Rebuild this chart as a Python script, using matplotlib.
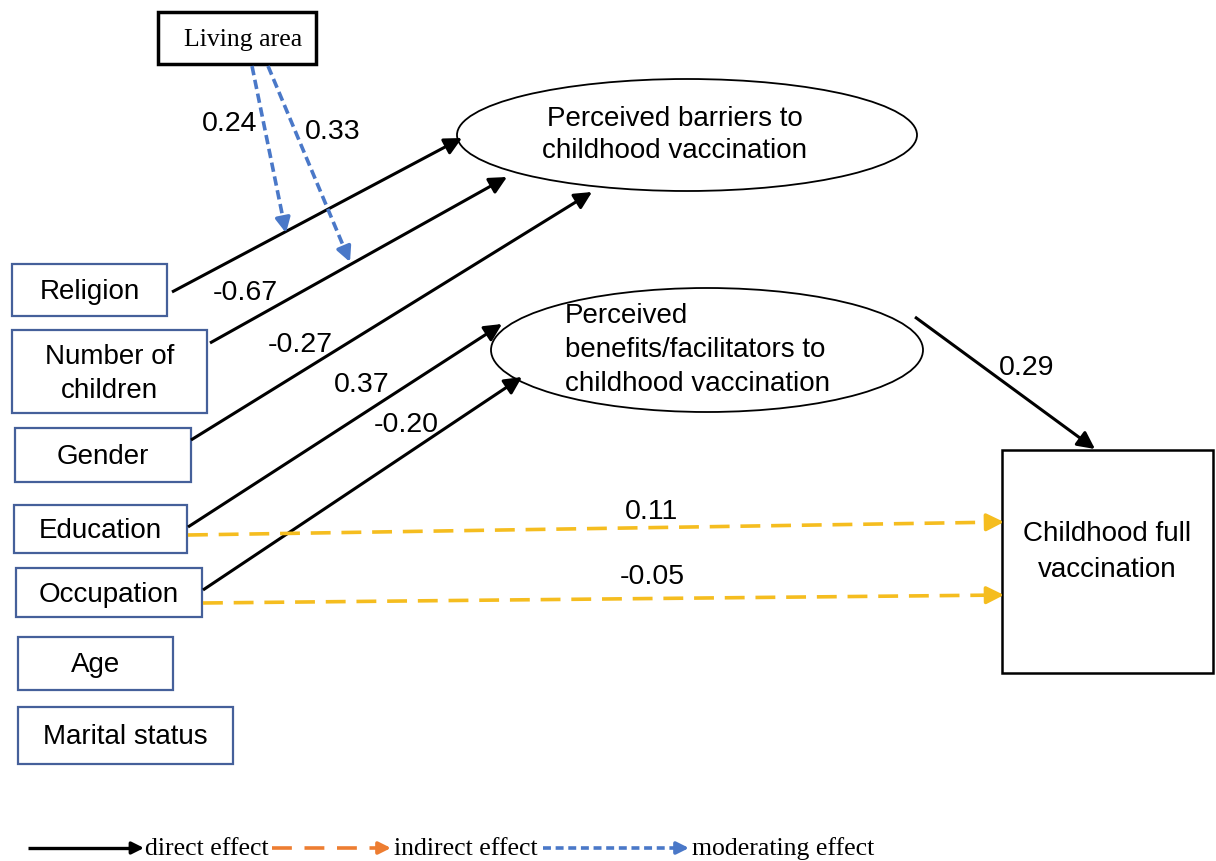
import matplotlib.pyplot as plt
import numpy as np
from matplotlib.patches import Rectangle, Ellipse

# data
predictors = ["Religion", "Number of\nchildren", "Gender", "Education", "Occupation", "Age", "Marital status"]
barrier_coefs = ["-0.67", "-0.27"]          # number of children, gender -> barriers
benefit_coefs = ["0.37", "-0.20"]           # education, occupation -> benefits
indirect_coefs = ["0.11", "-0.05"]          # education, occupation -> outcome
moderating_coefs = ["0.24", "0.33"]         # living area on religion / children paths
benefit_outcome_coef = "0.29"
legend_labels = ["direct effect", "indirect effect", "moderating effect"]

# layout in pixel units
W, H = 1216, 861
box_xy = [(12, 264, 155, 52), (12, 330, 195, 83), (15, 428, 176, 54), (14, 505, 173, 48),
          (16, 568, 186, 49), (18, 637, 155, 53), (18, 707, 215, 57)]

BLACK = "black"
BOXC = "#45609a"
YELLOW = "#f5bd1f"
ORANGE = "#ed7d31"
BLUE = "#4a78c8"
sans = "Liberation Sans"
serif = "Liberation Serif"
FS = 20

fig = plt.figure(figsize=(W / 100, H / 100), dpi=100)
ax = fig.add_axes([0, 0, 1, 1])
ax.set_xlim(0, W)
ax.set_ylim(H, 0)
ax.axis("off")

for name, (x, y, w, h) in zip(predictors, box_xy):
    ax.add_patch(Rectangle((x, y), w, h, fill=False, ec=BOXC, lw=1.6))
    ax.text(x + w / 2, y + h / 2 + 2, name, ha="center", va="center",
            fontsize=FS, family=sans, linespacing=1.4)

# living area
ax.add_patch(Rectangle((158, 12), 158, 52, fill=False, ec=BLACK, lw=2.5))
ax.text(243, 40, "Living area", ha="center", va="center", fontsize=18.5, family=serif)

# latent ellipses
ax.add_patch(Ellipse((687, 135), 460, 112, fill=False, ec=BLACK, lw=1.3))
ax.text(675, 135, "Perceived barriers to\nchildhood vaccination", ha="center", va="center",
        fontsize=FS, family=sans, linespacing=1.35)
ax.add_patch(Ellipse((707, 350), 432, 124, fill=False, ec=BLACK, lw=1.3))
ax.text(565, 350, "Perceived\nbenefits/facilitators to\nchildhood vaccination", ha="left", va="center",
        fontsize=FS, family=sans, linespacing=1.4)

# outcome
ax.add_patch(Rectangle((1002, 450), 211, 223, fill=False, ec=BLACK, lw=1.8))
ax.text(1107, 552, "Childhood full\nvaccination", ha="center", va="center",
        fontsize=FS, family=sans, linespacing=1.5)


def arrow(p0, p1, color, lw=2.2, head=26, dash=None):
    p0, p1 = np.array(p0, float), np.array(p1, float)
    d = (p1 - p0) / np.linalg.norm(p1 - p0)
    stub = p1 - d * 14
    line, = ax.plot([p0[0], stub[0] + d[0] * 2], [p0[1], stub[1] + d[1] * 2], color=color, lw=lw,
                    solid_capstyle="butt", dash_capstyle="butt")
    if dash is not None:
        line.set_dashes(dash)
    ax.annotate("", xy=p1, xytext=stub,
                arrowprops=dict(arrowstyle="-|>", color=color, lw=lw, mutation_scale=head,
                                shrinkA=0, shrinkB=0))


# direct paths
arrow((172, 292), (462, 138), BLACK)
arrow((210, 343), (507, 177), BLACK)
arrow((191, 440), (592, 192), BLACK)
arrow((188, 527), (502, 324), BLACK)
arrow((203, 590), (522, 377), BLACK)
arrow((915, 317), (1095, 449), BLACK)

# indirect paths
arrow((188, 535), (1004, 522), YELLOW, lw=2.6, dash=(5.5, 3))
arrow((203, 603), (1004, 595), YELLOW, lw=2.6, dash=(5.5, 3))

# moderating paths
arrow((252, 66), (286, 233), BLUE, lw=2.6, head=22, dash=(2.6, 1.3))
arrow((268, 66), (350, 262), BLUE, lw=2.6, head=22, dash=(2.6, 1.3))

# coefficient labels
lab = dict(fontsize=20.5, family=sans, ha="center", va="center")
ax.text(230, 124, moderating_coefs[0], **lab)
ax.text(333, 132, moderating_coefs[1], **lab)
ax.text(245, 293, barrier_coefs[0], **lab)
ax.text(300, 345, barrier_coefs[1], **lab)
ax.text(362, 385, benefit_coefs[0], **lab)
ax.text(406, 425, benefit_coefs[1], **lab)
ax.text(1027, 368, benefit_outcome_coef, **lab)
ax.text(652, 512, indirect_coefs[0], **lab)
ax.text(652, 577, indirect_coefs[1], **lab)

# legend
ly = 848
lfs = 18.5
arrow((28, ly), (144, ly), BLACK, lw=2.4, head=18)
ax.text(145, ly + 1, legend_labels[0], fontsize=lfs, family=serif, ha="left", va="center")
arrow((272, ly), (391, ly), ORANGE, lw=2.6, head=18, dash=(5.5, 3.5))
ax.text(394, ly + 1, legend_labels[1], fontsize=lfs, family=serif, ha="left", va="center")
arrow((543, ly), (689, ly), BLUE, lw=2.6, head=18, dash=(2.2, 1.3))
ax.text(692, ly + 1, legend_labels[2], fontsize=lfs, family=serif, ha="left", va="center")

fig.savefig("out.png", dpi=100)
